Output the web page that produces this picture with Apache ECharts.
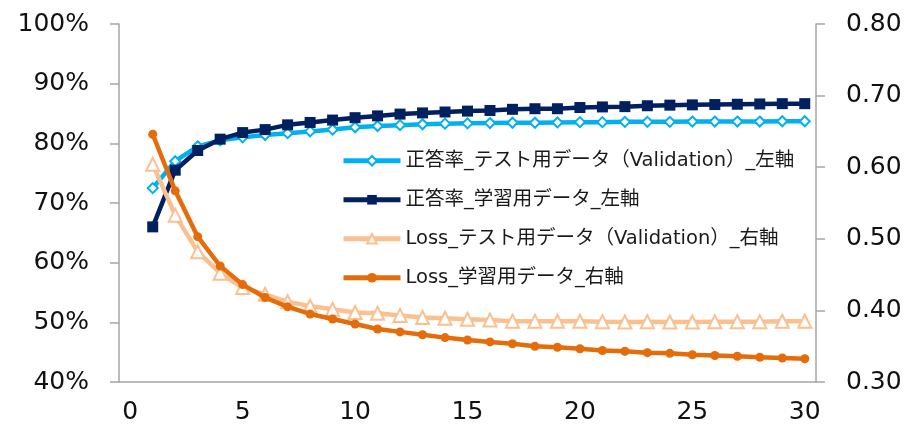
<!DOCTYPE html>
<html>
<head>
<meta charset="utf-8">
<script src="https://cdn.jsdelivr.net/npm/echarts@6/dist/echarts.min.js"></script>
<style>
  html, body { margin: 0; padding: 0; background: #fff; }
  #chart { width: 912px; height: 437px; }
</style>
</head>
<body>
<div id="chart"></div>
<script>
// Epoch categories 0..30 (epoch 0 has no data)
const epochs = Array.from({ length: 31 }, (_, i) => String(i));

// Accuracy (%) per epoch 1..30, left axis
const accValidation = [72.5, 77.0, 79.5, 80.5, 81.0, 81.4, 81.7, 82.0, 82.3, 82.7,
  82.9, 83.05, 83.2, 83.3, 83.35, 83.4, 83.45, 83.45, 83.5, 83.55,
  83.55, 83.6, 83.6, 83.6, 83.65, 83.65, 83.65, 83.65, 83.7, 83.7];
const accTrain = [66.0, 75.5, 78.8, 80.7, 81.8, 82.3, 83.1, 83.5, 83.9, 84.3,
  84.6, 84.9, 85.1, 85.25, 85.4, 85.5, 85.7, 85.8, 85.8, 86.0,
  86.1, 86.15, 86.3, 86.4, 86.45, 86.5, 86.55, 86.6, 86.65, 86.65];

// Loss per epoch 1..30, right axis
const lossValidation = [0.604, 0.533, 0.482, 0.452, 0.432, 0.4225, 0.412, 0.406, 0.4015, 0.397,
  0.396, 0.393, 0.390, 0.389, 0.3876, 0.3866, 0.385, 0.385, 0.3848, 0.3848,
  0.3843, 0.3838, 0.3843, 0.3838, 0.3838, 0.3843, 0.3843, 0.3843, 0.3848, 0.3848];
const lossTrain = [0.646, 0.567, 0.503, 0.462, 0.436, 0.418, 0.405, 0.395, 0.388, 0.381,
  0.374, 0.370, 0.366, 0.362, 0.3587, 0.356, 0.3535, 0.350, 0.3485, 0.3465,
  0.344, 0.343, 0.341, 0.340, 0.338, 0.337, 0.336, 0.3345, 0.3335, 0.3325];

const leftTicks = [40, 50, 60, 70, 80, 90, 100];
const rightTicks = [0.30, 0.40, 0.50, 0.60, 0.70, 0.80];

const names = [
  '正答率_テスト用データ（Validation）_左軸',
  '正答率_学習用データ_左軸',
  'Loss_テスト用データ（Validation）_右軸',
  'Loss_学習用データ_右軸'
];

const pad = arr => [null].concat(arr);
const numFont = '"DejaVu Sans", Verdana, sans-serif';
const axisGray = '#a6a6a6';

const chart = echarts.init(document.getElementById('chart'), null, { renderer: 'canvas' });

function lineSeries(name, data, yAxisIndex, color, symbol, size, fill, z) {
  return {
    name, type: 'line', data: pad(data), yAxisIndex,
    symbol, symbolSize: size, showAllSymbol: true,
    lineStyle: { color, width: 4.5 },
    itemStyle: { color: fill, borderColor: color, borderWidth: fill === '#fff' ? 2 : 0 },
    emphasis: { disabled: true },
    animation: false, z
  };
}

chart.setOption({
  animation: false,
  grid: { left: 119, right: 96, top: 24, bottom: 55, containLabel: false },
  legend: {
    orient: 'vertical', left: 341, top: 151, padding: 0,
    itemWidth: 57, itemHeight: 12, itemGap: 19.5,
    lineStyle: { width: 5 },
    textStyle: { fontFamily: '"DejaVu Sans", "Noto Sans CJK JP", sans-serif', fontSize: 19.5, color: '#1a1a1a' },
    data: names
  },
  xAxis: {
    type: 'category', data: epochs, boundaryGap: true,
    axisLine: { lineStyle: { color: axisGray, width: 1.5 } },
    axisTick: { interval: 4, length: 9, lineStyle: { color: axisGray, width: 1.5 } },
    axisLabel: { interval: 4, margin: 18, fontSize: 25, color: '#111', fontFamily: numFont },
    splitLine: { show: false }
  },
  yAxis: [
    {
      type: 'value', min: leftTicks[0], max: leftTicks[leftTicks.length - 1], interval: 10,
      position: 'left',
      axisLine: { show: true, lineStyle: { color: axisGray, width: 1.5 } },
      axisTick: { show: true, length: 9, lineStyle: { color: axisGray, width: 1.5 } },
      axisLabel: { margin: 30, fontSize: 25, color: '#111', fontFamily: numFont, formatter: v => v + '%' },
      splitLine: { show: false }
    },
    {
      type: 'value', min: rightTicks[0], max: rightTicks[rightTicks.length - 1], interval: 0.1,
      position: 'right',
      axisLine: { show: true, lineStyle: { color: axisGray, width: 1.5 } },
      axisTick: { show: true, length: 9, lineStyle: { color: axisGray, width: 1.5 } },
      axisLabel: { margin: 30, fontSize: 25, color: '#111', fontFamily: numFont, formatter: v => v.toFixed(2) },
      splitLine: { show: false }
    }
  ],
  series: [
    lineSeries(names[0], accValidation, 0, '#00b0f0', 'diamond', 10, '#fff', 2),
    lineSeries(names[1], accTrain, 0, '#002060', 'rect', 11, '#002060', 3),
    lineSeries(names[2], lossValidation, 1, '#fac090', 'triangle', 13, '#fff', 4),
    lineSeries(names[3], lossTrain, 1, '#e46c0a', 'circle', 9, '#e46c0a', 5)
  ]
});
</script>
</body>
</html>
